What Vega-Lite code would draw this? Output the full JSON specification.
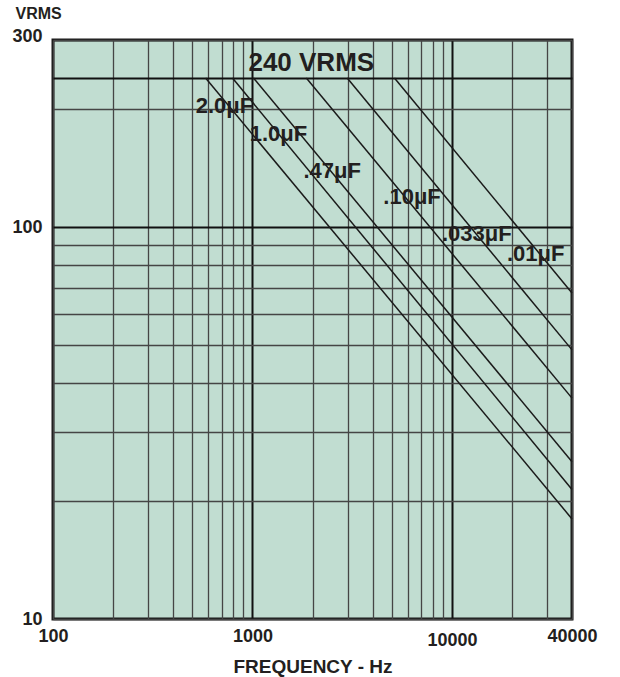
{
  "$schema": "https://vega.github.io/schema/vega-lite/v6.json",
  "autosize": {"type": "none"},
  "padding": {"left": 53, "top": 40, "right": 48, "bottom": 58},
  "width": 519,
  "height": 579,
  "background": "white",
  "config": {
    "font": "Liberation Sans",
    "view": {"fill": "#c1ddd1", "stroke": "#1a1a1a", "strokeWidth": 3}
  },
  "datasets": {
    "curves": [
      {"cap": "2.0uF", "freq": 582, "v": 240},
      {"cap": "2.0uF", "freq": 40000, "v": 18.0},
      {"cap": "1.0uF", "freq": 794, "v": 240},
      {"cap": "1.0uF", "freq": 40000, "v": 21.4},
      {"cap": ".47uF", "freq": 1012, "v": 240},
      {"cap": ".47uF", "freq": 40000, "v": 25.2},
      {"cap": ".10uF", "freq": 1862, "v": 240},
      {"cap": ".10uF", "freq": 40000, "v": 36.6},
      {"cap": ".033uF", "freq": 2985, "v": 240},
      {"cap": ".033uF", "freq": 40000, "v": 48.6},
      {"cap": ".01uF", "freq": 5150, "v": 240},
      {"cap": ".01uF", "freq": 40000, "v": 67.9}
    ],
    "labels": [
      {"label": "240 VRMS", "freq": 1972, "v": 262},
      {"label": "2.0μF", "freq": 724, "v": 203.6},
      {"label": "1.0μF", "freq": 1349, "v": 172.7},
      {"label": ".47μF", "freq": 2512, "v": 139},
      {"label": ".10μF", "freq": 6310, "v": 119.3},
      {"label": ".033μF", "freq": 13335, "v": 96},
      {"label": ".01μF", "freq": 26300, "v": 85.3}
    ]
  },
  "layer": [
    {
      "data": {"name": "curves"},
      "mark": {"type": "line", "color": "#1a1a1a", "strokeWidth": 1.5},
      "encoding": {
        "x": {
          "field": "freq",
          "type": "quantitative",
          "scale": {"type": "log", "domain": [100, 40000], "nice": false, "zero": false},
          "axis": {
            "values": [100, 200, 300, 400, 500, 600, 700, 800, 900, 1000, 2000, 3000, 4000, 5000, 6000, 7000, 8000, 9000, 10000, 20000, 30000, 40000],
            "format": "d",
            "labelExpr": "(datum.value == 100 || datum.value == 1000 || datum.value == 10000 || datum.value == 40000) ? datum.label : ''",
            "grid": true,
            "domain": false,
            "ticks": false,
            "labelOverlap": false,
            "labelFlush": false,
            "labelBound": false,
            "labelFontSize": 18,
            "labelFontWeight": "bold",
            "labelColor": "#231f20",
            "labelPadding": {"condition": {"test": "datum.value == 10000", "value": 12}, "value": 8},
            "gridColor": {"condition": {"test": "datum.value == 1000 || datum.value == 10000", "value": "#111111"}, "value": "#454545"},
            "gridWidth": {"condition": {"test": "datum.value == 1000 || datum.value == 10000", "value": 2}, "value": 1.3},
            "gridOpacity": 1,
            "title": "FREQUENCY - Hz",
            "titleFontSize": 19,
            "titleFontWeight": "bold",
            "titleColor": "#231f20",
            "titleY": 47,
            "titleBaseline": "middle"
          }
        },
        "y": {
          "field": "v",
          "type": "quantitative",
          "scale": {"type": "log", "domain": [10, 300], "nice": false, "zero": false},
          "axis": {
            "values": [10, 20, 30, 40, 50, 60, 70, 80, 90, 100, 200, 240, 300],
            "format": "d",
            "labelExpr": "(datum.value == 10 || datum.value == 100 || datum.value == 300) ? datum.label : ''",
            "grid": true,
            "domain": false,
            "ticks": false,
            "labelOverlap": false,
            "labelFlush": false,
            "labelBound": false,
            "labelFontSize": 18,
            "labelFontWeight": "bold",
            "labelColor": "#231f20",
            "labelPadding": 11,
            "labelBaseline": "middle",
            "labelOffset": {"condition": {"test": "datum.value == 300", "value": -4}, "value": 0},
            "gridColor": {"condition": {"test": "datum.value == 100 || datum.value == 240", "value": "#111111"}, "value": "#454545"},
            "gridWidth": {"condition": {"test": "datum.value == 100 || datum.value == 240", "value": 2}, "value": 1.3},
            "gridOpacity": 1,
            "title": "VRMS",
            "titleAngle": 0,
            "titleAlign": "left",
            "titleBaseline": "middle",
            "titleX": -38,
            "titleY": -27,
            "titleFontSize": 16,
            "titleFontWeight": "bold",
            "titleColor": "#231f20"
          }
        },
        "detail": {"field": "cap", "type": "nominal"}
      }
    },
    {
      "data": {"name": "labels"},
      "mark": {"type": "text", "fontWeight": "bold", "color": "#231f20", "align": "center", "baseline": "middle"},
      "encoding": {
        "x": {"field": "freq", "type": "quantitative"},
        "y": {"field": "v", "type": "quantitative"},
        "text": {"field": "label", "type": "nominal"},
        "size": {"condition": {"test": "datum.label === '240 VRMS'", "value": 26}, "value": 22}
      }
    }
  ]
}
